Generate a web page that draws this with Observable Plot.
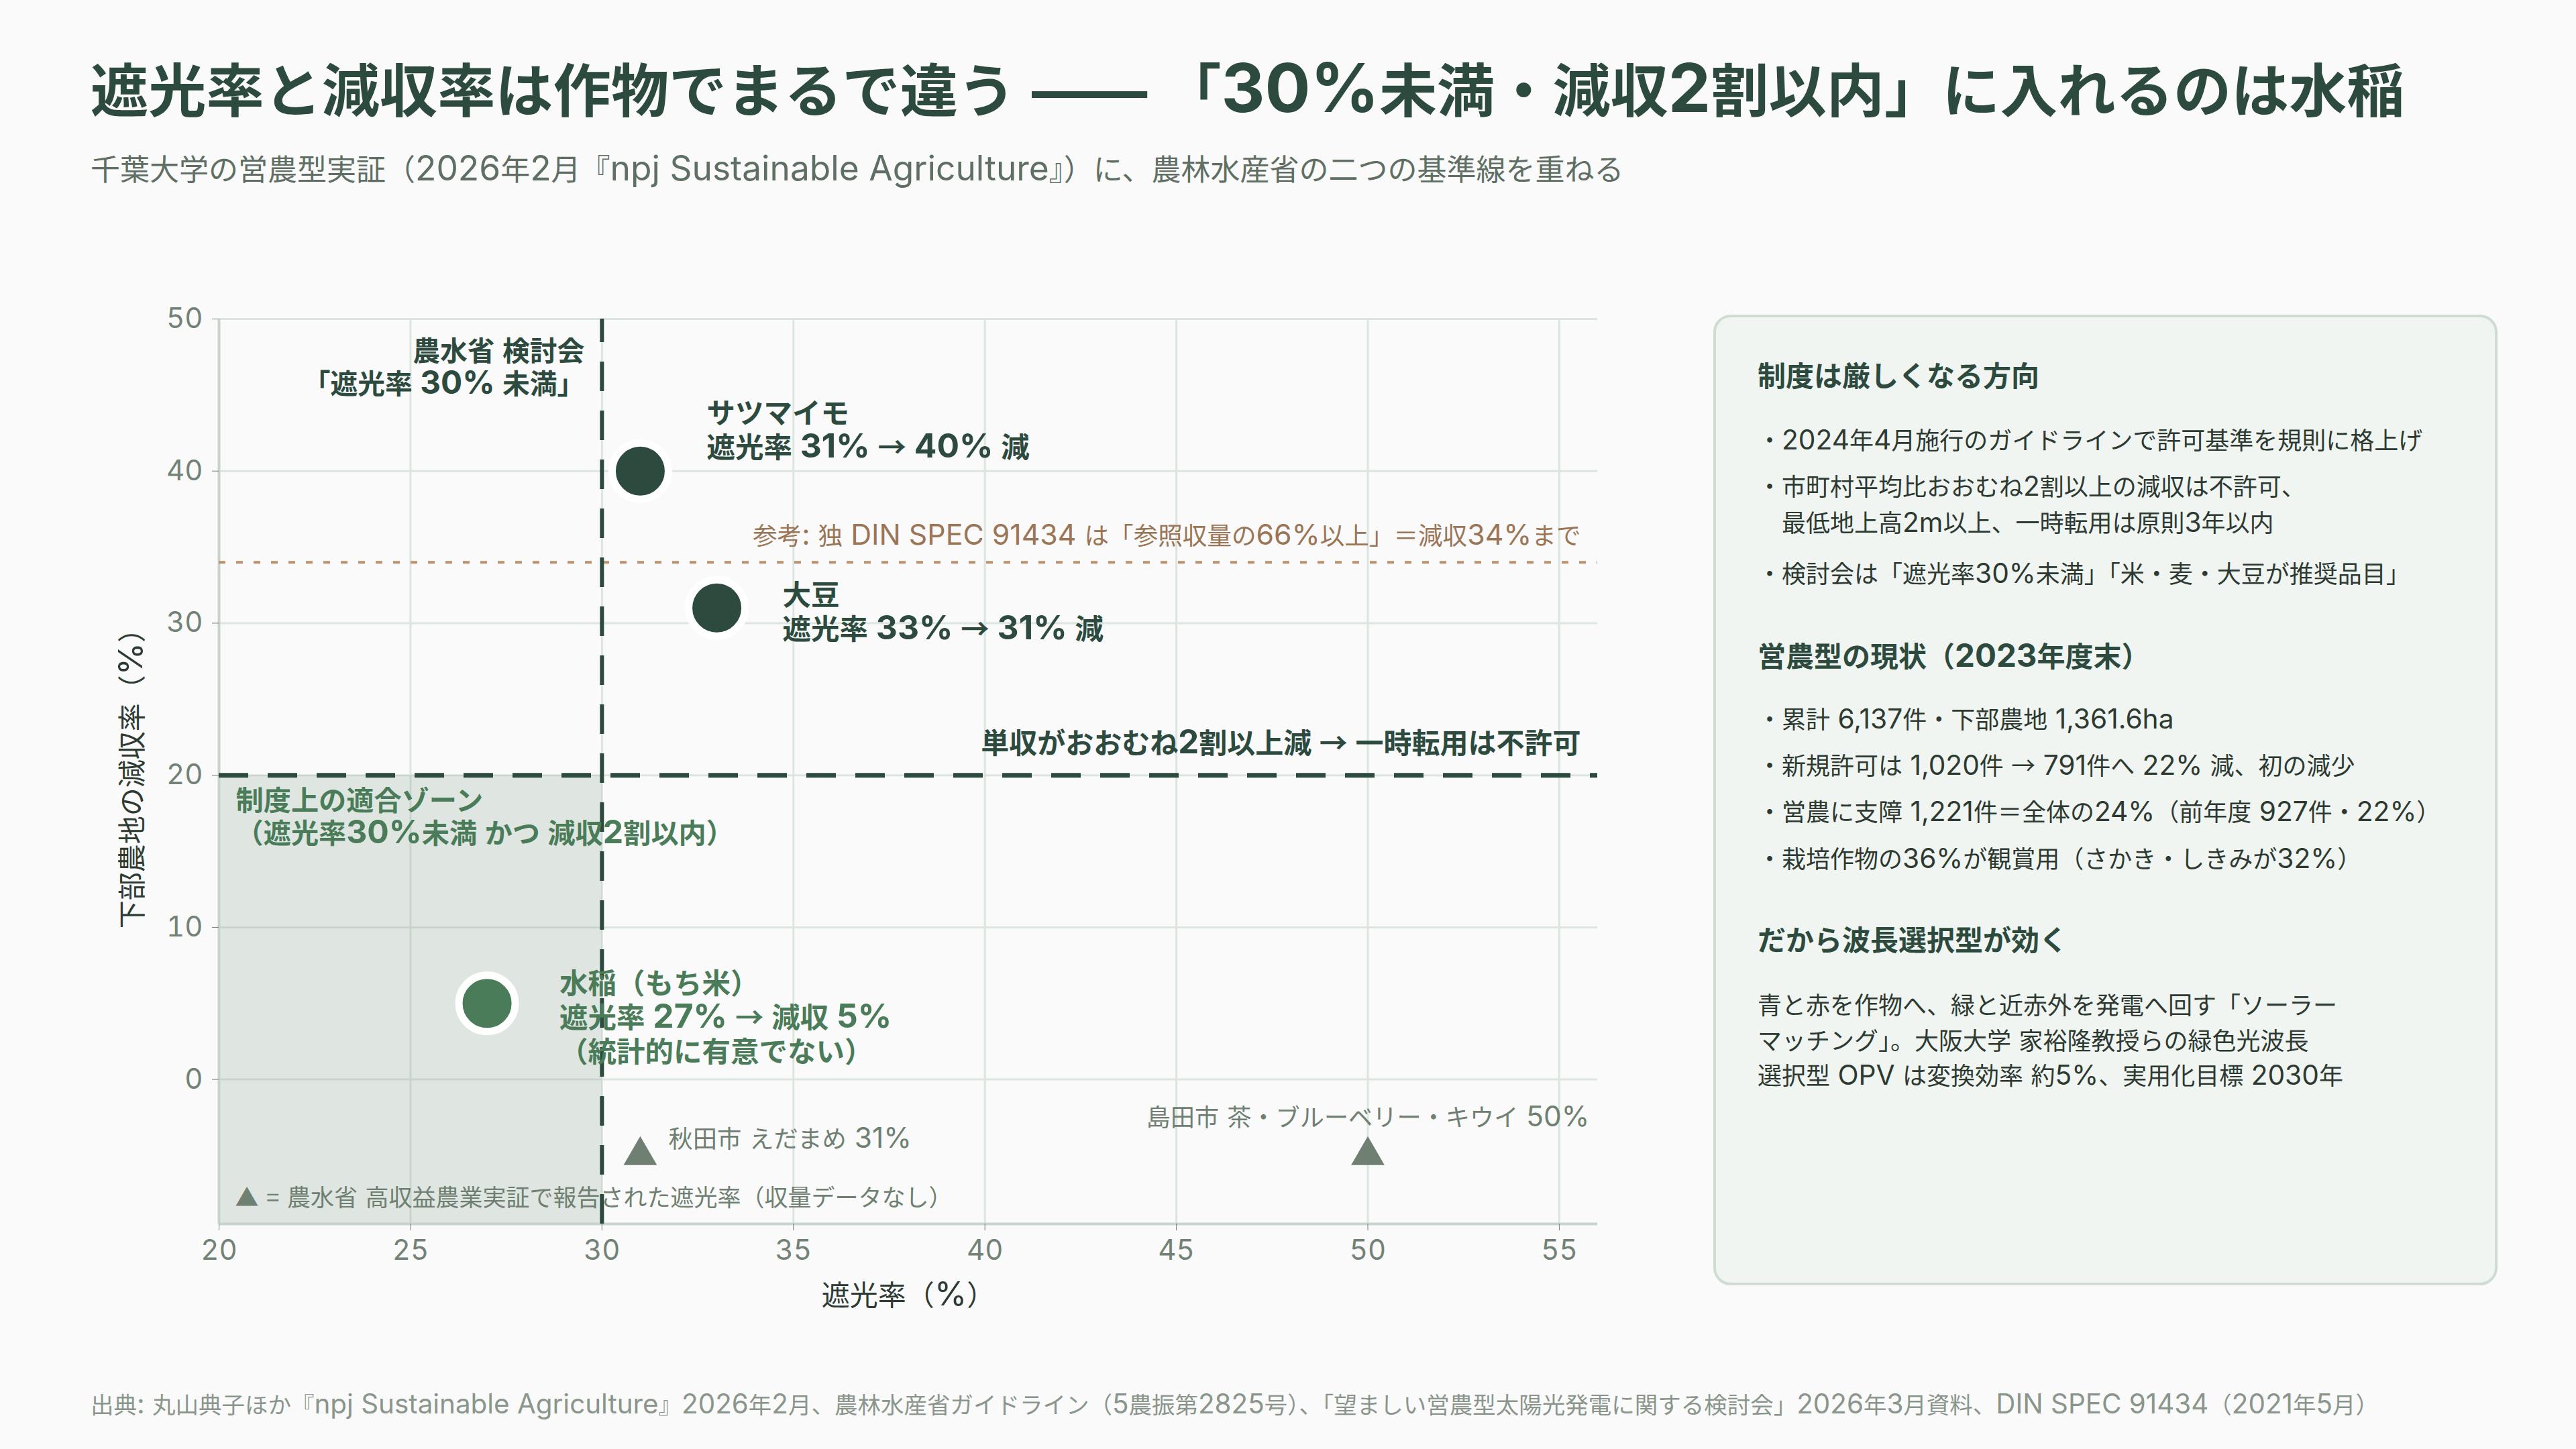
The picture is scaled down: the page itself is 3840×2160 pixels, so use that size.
<!DOCTYPE html>
<html><head><meta charset="utf-8">
<script src="https://cdn.jsdelivr.net/npm/d3@7"></script>
<script src="https://cdn.jsdelivr.net/npm/@observablehq/plot@0.6"></script>
<style>
html,body{margin:0;padding:0;background:#fafafa;}
body{width:3840px;height:2160px;position:relative;overflow:hidden;font-family:"Noto Sans CJK JP","Noto Sans",sans-serif;}
.abs{position:absolute;white-space:nowrap;line-height:1;}
.lat{font-family:Inter,"Noto Sans",sans-serif;font-size:1.17em;line-height:0;}
.dash{font-family:Inter,"Noto Sans",sans-serif;line-height:0;}
#panelText .lat{font-size:1.13em;}
#title{left:135px;top:87px;font-size:86.2px;font-weight:700;color:#2d4a3e;}
#subtitle{left:135px;top:228px;font-size:44px;color:#5f6f64;}
#chart{position:absolute;left:0;top:400px;}
#panel{position:absolute;left:2554px;top:469px;width:1161px;height:1439px;border:4px solid #cfdcd2;border-radius:26px;background:#f1f5f2;}
.ph{font-size:42px;font-weight:700;color:#2d4a3e;left:2620px;}
.pb{font-size:36px;color:#2d3a32;left:2620px;}
.pp{font-size:36px;color:#2d3a32;left:2620px;}
#footer{left:135px;top:2075px;font-size:34.5px;color:#8a968c;}
</style></head>
<body>
<div id="title" class="abs">遮光率と減収率は作物でまるで違う —— 「30%未満・減収2割以内」に入れるのは水稲</div>
<div id="subtitle" class="abs">千葉大学の営農型実証（2026年2月『npj Sustainable Agriculture』）に、農林水産省の二つの基準線を重ねる</div>
<div id="chart"></div>
<div id="panel"></div>
<div id="panelText"></div>
<div id="footer" class="abs">出典: 丸山典子ほか『npj Sustainable Agriculture』2026年2月、農林水産省ガイドライン（5農振第2825号）、「望ましい営農型太陽光発電に関する検討会」2026年3月資料、DIN SPEC 91434（2021年5月）</div>
<script>
// ---- data ----
const cropNames = ["サツマイモ", "大豆", "水稲（もち米）"];
const cropShading = [31, 33, 27];
const cropYieldLoss = [40, 31, 5];
const cropDetail = ["遮光率 31% → 40% 減", "遮光率 33% → 31% 減", "遮光率 27% → 減収 5%\n（統計的に有意でない）"];
const cropInZone = [false, false, true];
const siteNames = ["秋田市 えだまめ", "島田市 茶・ブルーベリー・キウイ"];
const siteShading = [31, 50];
const xTicks = [20, 25, 30, 35, 40, 45, 50, 55];
const yTicks = [0, 10, 20, 30, 40, 50];
const xDomain = [20, 56];
const yDomain = [-9.5, 50];
const shadeLimit = 30;   // 農水省 検討会 遮光率30%未満
const yieldLimit = 20;   // 減収2割
const dinLimit = 34;     // DIN SPEC 91434 減収34%
const siteMarkerY = -5;  // no yield data: triangles sit below 0

const panelHeads = ["制度は厳しくなる方向", "営農型の現状（2023年度末）", "だから波長選択型が効く"];
const panelBullets1 = ["2024年4月施行のガイドラインで許可基準を規則に格上げ", "市町村平均比おおむね2割以上の減収は不許可、\n最低地上高2m以上、一時転用は原則3年以内", "検討会は「遮光率30%未満」「米・麦・大豆が推奨品目」"];
const panelBullets2 = ["累計 6,137件・下部農地 1,361.6ha", "新規許可は 1,020件 → 791件へ 22% 減、初の減少", "営農に支障 1,221件＝全体の24%（前年度 927件・22%）", "栽培作物の36%が観賞用（さかき・しきみが32%）"];
const panelPara = ["青と赤を作物へ、緑と近赤外を発電へ回す「ソーラー", "マッチング」。大阪大学 家裕隆教授らの緑色光波長", "選択型 OPV は変換効率 約5%、実用化目標 2030年"];

const crops = cropNames.map((n, i) => ({name: n, x: cropShading[i], y: cropYieldLoss[i], label: n + "\n" + cropDetail[i], zone: cropInZone[i]}));
const sites = siteNames.map((n, i) => ({name: n, x: siteShading[i], y: siteMarkerY, label: `${n} ${siteShading[i]}%`}));

const dark = "#2d4a3e", green = "#4a7c59", gray = "#6f7f72";
const FF = "'Noto Sans CJK JP', sans-serif";
const LATIN = /[A-Za-z0-9%.,:\- ]+/g;
const RUNS = /[A-Za-z0-9%.,:\- ]+|\u2014+/g;

const chart = Plot.plot({
  width: 2450, height: 1600,
  marginLeft: 326, marginRight: 69, marginTop: 75, marginBottom: 176,
  style: {background: "transparent", fontFamily: FF, overflow: "visible"},
  x: {domain: xDomain, ticks: xTicks},
  y: {domain: yDomain, ticks: yTicks},
  marks: [
    Plot.gridX(xTicks, {stroke: "#dde5df", strokeOpacity: 1, strokeWidth: 3}),
    Plot.gridY(yTicks, {stroke: "#dde5df", strokeOpacity: 1, strokeWidth: 3}),
    Plot.rect([{x1: xDomain[0], x2: shadeLimit, y1: yDomain[0], y2: yieldLimit}], {x1: "x1", x2: "x2", y1: "y1", y2: "y2", fill: green, fillOpacity: 0.15}),
    Plot.ruleY([yDomain[0]], {stroke: "#c8d3cb", strokeWidth: 4}),
    Plot.ruleX([xDomain[0]], {stroke: "#c8d3cb", strokeWidth: 4}),
    Plot.axisX({ticks: xTicks, tickSize: 10, tickPadding: 14, fontSize: 42, color: "#738277", label: null, fontFamily: "Inter"}),
    Plot.axisY({ticks: yTicks, tickSize: 10, tickPadding: 14, fontSize: 42, color: "#738277", label: null, fontFamily: "Inter"}),
    Plot.text(["遮光率（%）"], {frameAnchor: "bottom", dy: 108, fontSize: 42, fill: "#2d3b33", lineAnchor: "middle"}),
    Plot.text(["下部農地の減収率（%）"], {frameAnchor: "left", dx: -128, rotate: -90, fontSize: 42, fill: "#2d3b33", textAnchor: "middle", lineAnchor: "middle"}),
    Plot.ruleY([dinLimit], {stroke: "#b8916e", strokeWidth: 4, strokeDasharray: "10,16"}),
    Plot.ruleY([yieldLimit], {stroke: dark, strokeWidth: 7, strokeDasharray: "44,29"}),
    Plot.ruleX([shadeLimit], {y1: yDomain[0], y2: yDomain[1], stroke: dark, strokeWidth: 6, strokeDasharray: "44,29"}),
    Plot.text(["参考: 独 DIN SPEC 91434 は「参照収量の66%以上」＝減収34%まで"], {x: xDomain[1], y: dinLimit, dx: -25, dy: -38, textAnchor: "end", fontSize: 36.6, fill: "#9a7556", lineAnchor: "middle"}),
    Plot.text(["単収がおおむね2割以上減 → 一時転用は不許可"], {x: xDomain[1], y: yieldLimit, dx: -25, dy: -46, textAnchor: "end", fontSize: 42, fontWeight: "bold", fill: dark, lineAnchor: "middle"}),
    Plot.text(["農水省 検討会\n「遮光率 30% 未満」"], {x: shadeLimit, y: yDomain[1], dx: -26, dy: 71, textAnchor: "end", fontSize: 40.8, fontWeight: "bold", fill: dark, lineAnchor: "middle", lineHeight: 1.2}),
    Plot.text(["制度上の適合ゾーン\n（遮光率30%未満 かつ 減収2割以内）"], {x: xDomain[0], y: yieldLimit, dx: 25, dy: 61, textAnchor: "start", fontSize: 41.2, fontWeight: "bold", fill: green, lineAnchor: "middle", lineHeight: 1.2}),
    Plot.text(["▲ = 農水省 高収益農業実証で報告された遮光率（収量データなし）"], {frameAnchor: "bottom-left", dx: 24, dy: -38, textAnchor: "start", fontSize: 35, fill: gray, lineAnchor: "middle"}),
    Plot.dot(sites, {x: "x", y: "y", symbol: "triangle", r: 18.5, fill: gray}),
    Plot.text(sites.filter((d, i) => i === 0), {x: "x", y: "y", text: "label", dx: 42, dy: -23, textAnchor: "start", fontSize: 36.3, fill: gray, lineAnchor: "middle"}),
    Plot.text(sites.filter((d, i) => i === 1), {x: "x", y: "y", text: "label", dy: -55, textAnchor: "middle", fontSize: 36.2, fill: gray, lineAnchor: "middle"}),
    Plot.dot(crops, {x: "x", y: "y", r: 42, fill: d => d.zone ? green : dark, stroke: "white", strokeWidth: 11}),
    Plot.text(crops.filter((d, i) => i === 0), {x: "x", y: "y", text: "label", dx: 99, dy: -62, textAnchor: "start", fontSize: 42.5, fontWeight: "bold", fill: dark, lineAnchor: "middle", lineHeight: 1.2}),
    Plot.text(crops.filter((d, i) => i === 1), {x: "x", y: "y", text: "label", dx: 98, dy: 5, textAnchor: "start", fontSize: 42.5, fontWeight: "bold", fill: dark, lineAnchor: "middle", lineHeight: 1.2}),
    Plot.text(crops.filter((d, i) => i === 2), {x: "x", y: "y", text: "label", dx: 108, dy: 20, textAnchor: "start", fontSize: 42.5, fontWeight: "bold", fill: green, lineAnchor: "middle", lineHeight: 1.2})
  ]
});
document.getElementById("chart").appendChild(chart);

// Latin runs are set in Inter, slightly larger than the CJK text (as in the reference)
const SVGNS = "http://www.w3.org/2000/svg";
function wrapSvg(node) {
  Array.from(node.childNodes).forEach(ch => {
    if (ch.nodeType === 3) {
      const s = ch.nodeValue;
      const frag = document.createDocumentFragment();
      let last = 0;
      s.replace(LATIN, (m, off) => {
        if (off > last) frag.appendChild(document.createTextNode(s.slice(last, off)));
        const ts = document.createElementNS(SVGNS, "tspan");
        ts.setAttribute("style", "font-size:1.17em;font-family:Inter,sans-serif");
        ts.textContent = m;
        frag.appendChild(ts);
        last = off + m.length;
        return m;
      });
      if (last < s.length) frag.appendChild(document.createTextNode(s.slice(last)));
      node.replaceChild(frag, ch);
    } else if (ch.nodeType === 1) wrapSvg(ch);
  });
}
chart.querySelectorAll('g[aria-label="text"] text').forEach(wrapSvg);

function esc(s) { return s.replace(/&/g, "&amp;").replace(/</g, "&lt;"); }
function wrapHtml(el) {
  el.innerHTML = esc(el.textContent).replace(RUNS, m => `<span class="${m[0] === "\u2014" ? "dash" : "lat"}">${m}</span>`);
}
["title", "subtitle", "footer"].forEach(id => wrapHtml(document.getElementById(id)));

// ---- side panel ----
const pt = document.getElementById("panelText");
function add(cls, text, top, indent) {
  const d = document.createElement("div");
  d.className = "abs " + cls;
  d.textContent = text;
  d.style.top = top + "px";
  if (indent) d.style.left = (2620 + indent) + "px";
  pt.appendChild(d);
  wrapHtml(d);
}
const hTop = c => c - 23, bTop = c => c - 20;
add("ph", panelHeads[0], hTop(560));
const b1Centers = [[656], [725, 779], [855]];
panelBullets1.forEach((t, i) => {
  t.split("\n").forEach((line, j) => add("pb", (j === 0 ? "・" : "") + line, bTop(b1Centers[i][j]), j === 0 ? 0 : 36));
});
add("ph", panelHeads[1], hTop(978));
const b2Centers = [1072, 1141, 1210, 1280];
panelBullets2.forEach((t, i) => add("pb", "・" + t, bTop(b2Centers[i])));
add("ph", panelHeads[2], hTop(1401));
const pCenters = [1498, 1551, 1603];
panelPara.forEach((t, i) => add("pp", t, bTop(pCenters[i])));
</script>
</body></html>
